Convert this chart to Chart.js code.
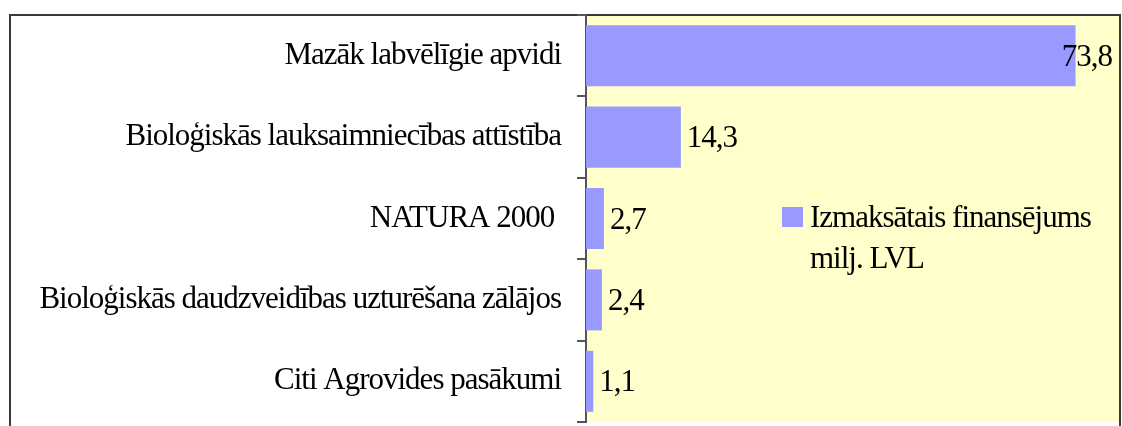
<!DOCTYPE html>
<html>
<head>
<meta charset="utf-8">
<script src="https://cdn.jsdelivr.net/npm/chart.js@4.4.1/dist/chart.umd.min.js"></script>
<style>
    html, body { margin: 0; padding: 0; background: #ffffff; }
    #wrap { width: 1122px; height: 426px; }
</style>
</head>
<body>
<div id="wrap"><canvas id="finChart" width="1122" height="426"></canvas></div>
<script>
// dati no attēla
const categories = [
    'Mazāk labvēlīgie apvidi',
    'Bioloģiskās lauksaimniecības attīstība',
    'NATURA 2000 ',
    'Bioloģiskās daudzveidības uzturēšana zālājos',
    'Citi Agrovides pasākumi'
];
const amounts = [73.8, 14.3, 2.7, 2.4, 1.1];
const seriesName = 'Izmaksātais finansējums milj. LVL';
const legendLines = ['Izmaksātais finansējums', 'milj. LVL'];

const serif = "'Liberation Serif', 'Times New Roman', serif";
const fontSize = 31;

// rāmis un dzeltenais fons
const framePlugin = {
    id: 'frame',
    beforeDraw(chart) {
        const ctx = chart.ctx;
        const a = chart.chartArea;
        // šaurāks burtu atstatums, lai teksts līdzinātos oriģinālam
        ctx.letterSpacing = '-1px';
        ctx.save();
        ctx.fillStyle = '#ffffff';
        ctx.fillRect(0, 0, chart.width, chart.height);
        ctx.fillStyle = '#ffffcc';
        ctx.fillRect(a.left, a.top, a.right - a.left, a.bottom - a.top);
        ctx.strokeStyle = '#3a3a3a';
        ctx.lineWidth = 2;
        ctx.strokeRect(10, a.top, a.right - 10, chart.height + 20);
        ctx.restore();
    }
};

// vērtības pie stabiņiem
const valueLabels = {
    id: 'valueLabels',
    afterDatasetsDraw(chart) {
        const ctx = chart.ctx;
        const a = chart.chartArea;
        const meta = chart.getDatasetMeta(0);
        ctx.save();
        ctx.font = fontSize + 'px ' + serif;
        ctx.fillStyle = '#000000';
        ctx.textBaseline = 'middle';
        meta.data.forEach((bar, i) => {
            const txt = amounts[i].toFixed(1).replace('.', ',');
            const w = ctx.measureText(txt).width;
            let x = bar.x + 6;
            if (x + w > a.right - 8) {
                x = a.right - 8 - w;
            }
            ctx.fillText(txt, x, bar.y + 2);
        });
        ctx.restore();
    }
};

// leģenda diagrammas laukumā
const innerLegend = {
    id: 'innerLegend',
    afterDraw(chart) {
        const ctx = chart.ctx;
        ctx.save();
        ctx.fillStyle = '#9999ff';
        ctx.fillRect(782, 207, 21, 20);
        ctx.font = fontSize + 'px ' + serif;
        ctx.fillStyle = '#000000';
        ctx.textBaseline = 'middle';
        legendLines.forEach((line, i) => {
            ctx.fillText(line, 810, 219 + i * 41);
        });
        ctx.restore();
    }
};

new Chart(document.getElementById('finChart').getContext('2d'), {
    type: 'bar',
    data: {
        labels: categories,
        datasets: [{
            label: seriesName,
            data: amounts,
            backgroundColor: '#9999ff',
            borderWidth: 0,
            categoryPercentage: 1,
            barPercentage: 0.75
        }]
    },
    options: {
        indexAxis: 'y',
        responsive: false,
        animation: false,
        layout: {
            padding: { left: 0, top: 15, right: 2, bottom: 4 }
        },
        plugins: {
            legend: { display: false },
            tooltip: { enabled: false }
        },
        scales: {
            x: {
                display: false,
                min: 0,
                max: 80.5
            },
            y: {
                afterFit(scale) {
                    scale.width = 586;
                    scale.paddingTop = 0;
                    scale.paddingBottom = 0;
                },
                border: { display: true, color: '#555555', width: 2 },
                grid: {
                    offset: true,
                    drawOnChartArea: false,
                    tickLength: 9,
                    color: '#555555',
                    lineWidth: 2
                },
                ticks: {
                    color: '#000000',
                    padding: 16,
                    font: { family: serif, size: fontSize }
                }
            }
        }
    },
    plugins: [framePlugin, valueLabels, innerLegend]
});
</script>
</body>
</html>
